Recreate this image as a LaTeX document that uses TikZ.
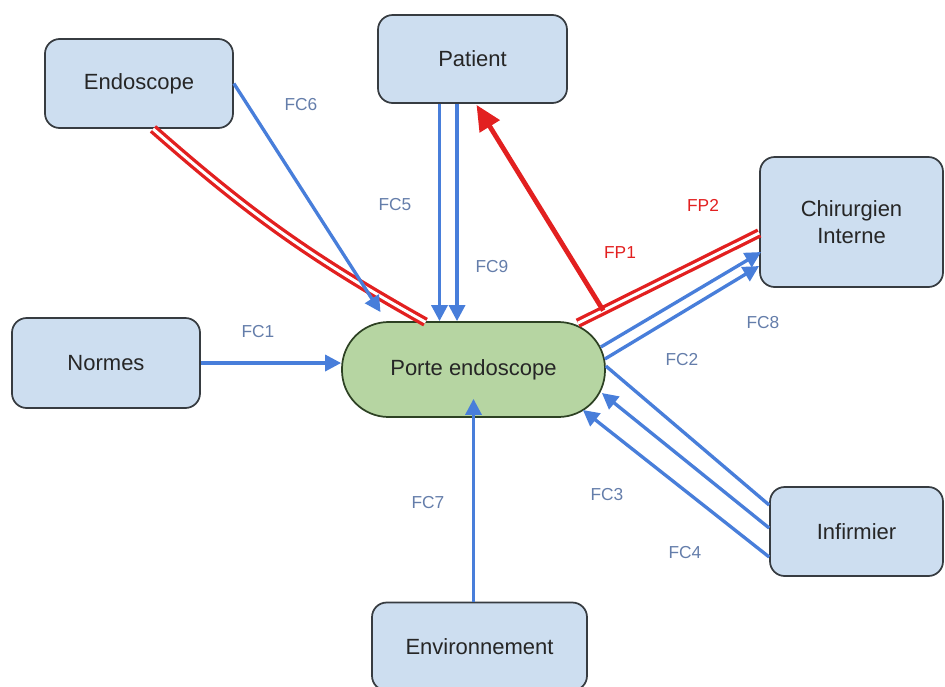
\documentclass[tikz,border=0pt]{standalone}
\usepackage{fontspec}
\setmainfont{Liberation Sans}
\usetikzlibrary{arrows.meta,calc}
\definecolor{boxblue}{RGB}{205,222,240}
\definecolor{boxline}{RGB}{55,60,65}
\definecolor{portegreen}{RGB}{182,213,162}
\definecolor{porteline}{RGB}{45,65,35}
\definecolor{fcblue}{RGB}{72,126,218}
\definecolor{fctext}{RGB}{100,125,170}
\definecolor{fpred}{RGB}{226,32,32}
\begin{document}
\begin{tikzpicture}[x=0.75pt,y=-0.75pt,font=\fontsize{16.5}{20}\selectfont]
  \tikzset{box/.style={draw=boxline, fill=boxblue, line width=1.3pt, rounded corners=11pt, align=center, text=black!85},
    fc/.style={draw=fcblue, line width=2.5pt, -{Triangle[length=12pt,width=12pt]}},
    fcline/.style={draw=fcblue, line width=2.5pt},
    fp/.style={draw=fpred, line width=2.5pt, double=white, double distance=2.2pt},
    fparrow/.style={draw=fpred, line width=3.6pt, -{Triangle[length=19pt,width=17pt]}},
    fclabel/.style={text=fctext, font=\fontsize{13}{15}\selectfont},
    fplabel/.style={text=fpred, font=\fontsize{13}{15}\selectfont}}
  \useasboundingbox (0,0) rectangle (945,686);
  \clip (0,0) rectangle (945,686);
  \node[box, minimum width=141pt, minimum height=66.75pt] (endo) at (139,83.5) {Endoscope};
  \node[box, minimum width=141.75pt, minimum height=66pt] (patient) at (472.5,59) {Patient};
  \node[box, minimum width=137.25pt, minimum height=97.5pt] (chir) at (851.5,222) {Chirurgien\\Interne};
  \node[box, minimum width=141pt, minimum height=67.5pt] (normes) at (106,363) {Normes};
  \node[box, minimum width=129.75pt, minimum height=66.75pt] (infir) at (856.5,531.5) {Infirmier};
  \node[box, minimum width=161.25pt, minimum height=66pt] (env) at (479.5,646.5) {Environnement};
  \node[draw=porteline, fill=portegreen, line width=1.3pt, rounded corners=35pt, text=black!85,
    minimum width=197.25pt, minimum height=71.25pt] (porte) at (473.5,369.5) {Porte endoscope};
  \draw[fp] ($(endo.south)+(14,0)$) to[bend right=6] ($(porte.north)+(-48,1)$);
  \draw[fp] ($(porte.north east)+(-28,2)$) coordinate (fp2s) -- ($(chir.west)+(0,11)$) coordinate (fp2e);
  \draw[fparrow] ($(fp2s)!0.14!(fp2e)$) -- ($(patient.south)+(4,1)$);
  \draw[fc] (normes.east) -- (normes.east -| porte.west);
  \draw[fc] (endo.east) -- ($(porte.north)+(-93,-9)$);
  \draw[fc] ($(patient.south)+(-33,0)$) -- ($(porte.north)+(-34,0)$);
  \draw[fc] ($(patient.south)+(-15.5,0)$) -- ($(porte.north)+(-16.5,0)$);
  \draw[fc] ($(porte.east)+(-5,-22.5)$) -- ($(chir.west)+(2,30)$);
  \draw[fc] ($(porte.east)+(-1,-10.5)$) -- ($(chir.west)+(0,44)$);
  \draw[fcline] ($(porte.east)+(0,-3.5)$) -- ($(infir.west)+(0,-26.5)$);
  \draw[fc] ($(infir.west)+(0,-3.5)$) -- ($(porte.east)+(-4,23.5)$);
  \draw[fc] ($(infir.west)+(0,25.5)$) -- ($(porte.east)+(-23,40.5)$);
  \draw[fc] (porte.south |- env.north) -- ($(porte.south)+(0,-19)$);
  \node[fclabel] (lfc1) at (258,332) {FC1};
  \node[fclabel] (lfc2) at (682,360) {FC2};
  \node[fclabel] (lfc3) at (607,495) {FC3};
  \node[fclabel] (lfc4) at (685,553) {FC4};
  \node[fclabel] (lfc5) at (395,205) {FC5};
  \node[fclabel] (lfc6) at (301,105) {FC6};
  \node[fclabel] (lfc7) at (428,503) {FC7};
  \node[fclabel] (lfc8) at (763,323) {FC8};
  \node[fclabel] (lfc9) at (492,267) {FC9};
  \node[fplabel] (lfp1) at (620,253) {FP1};
  \node[fplabel] (lfp2) at (703,205) {FP2};
\end{tikzpicture}
\end{document}
